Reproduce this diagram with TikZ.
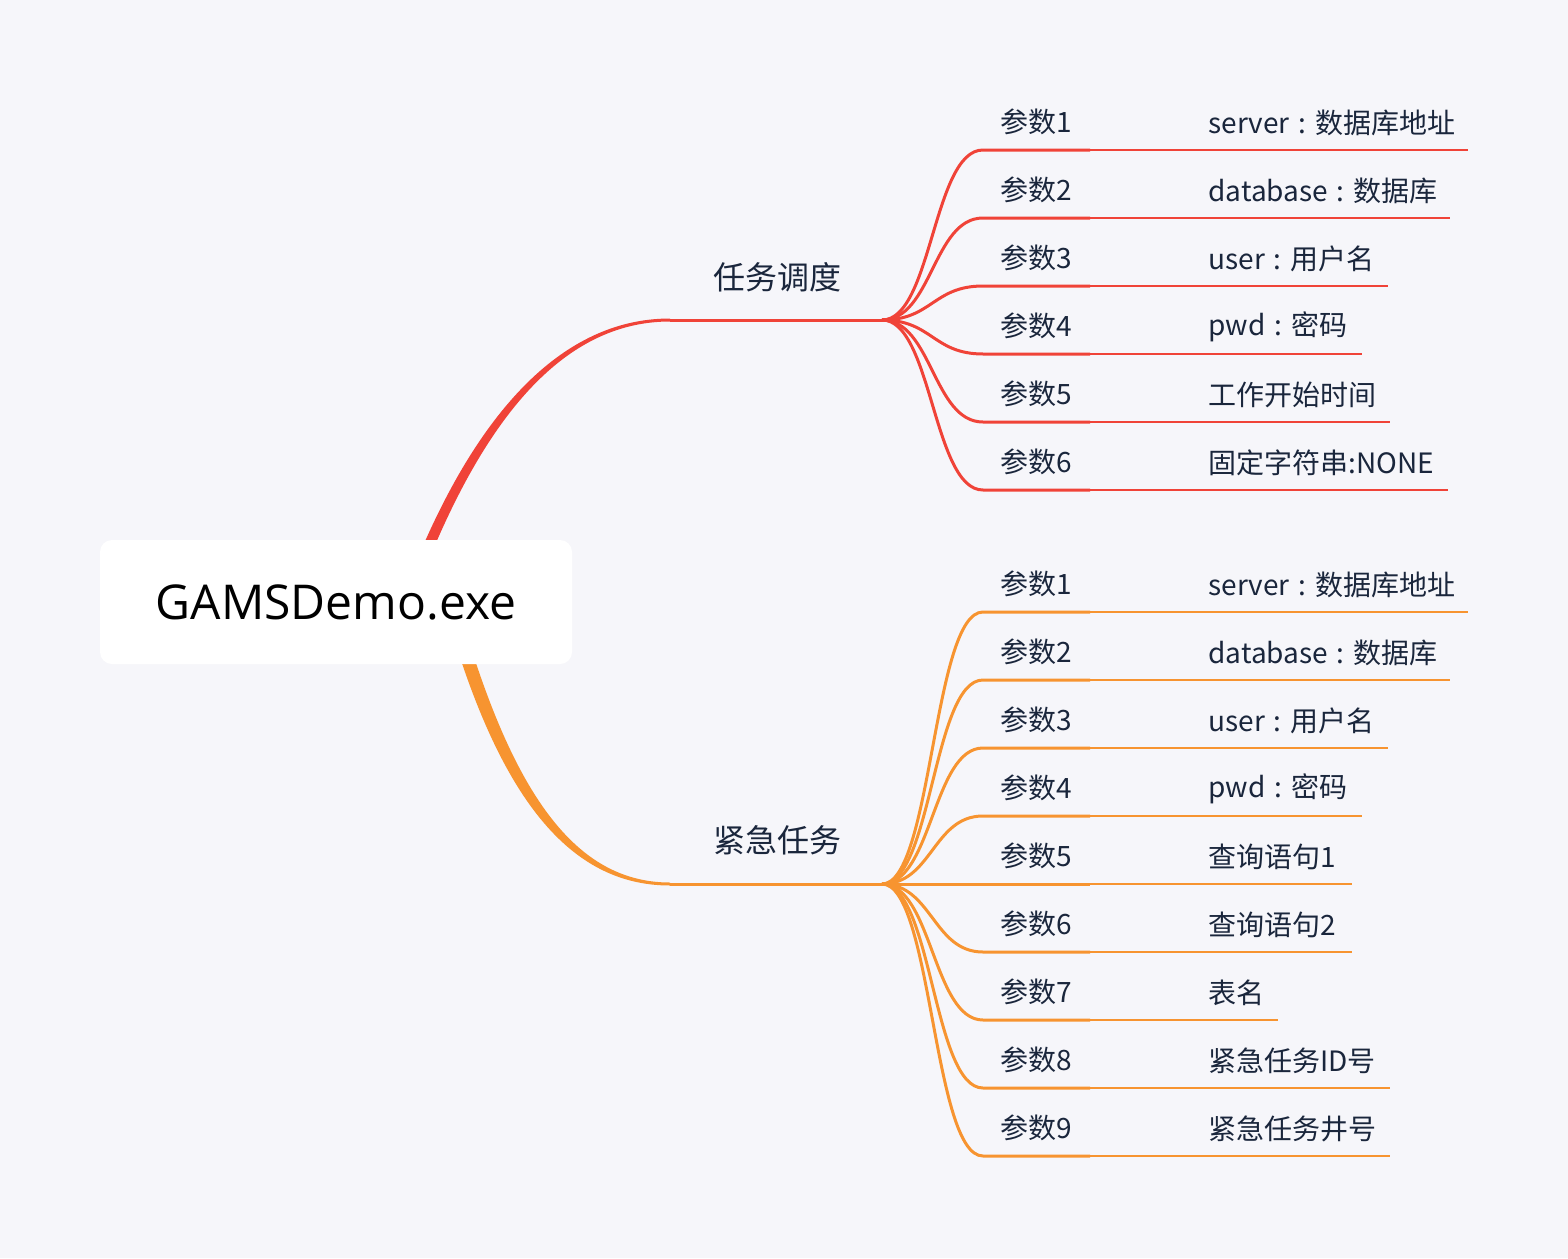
\documentclass[tikz,border=0pt]{standalone}
\usepackage{fontspec}
\setmainfont{Open Sans}
\newfontfamily\cn{Noto Sans CJK SC}
\definecolor{bgpaper}{RGB}{246,246,250}
\definecolor{redline}{RGB}{240,67,56}
\definecolor{orangeline}{RGB}{247,148,48}
\definecolor{ink}{RGB}{26,38,60}
\newcommand{\sep}{\hspace{4.5pt}:\hspace{4.5pt}}
\tikzset{
  rootbox/.style={fill=white,rounded corners=6pt,minimum width=236pt,minimum height=62pt,inner sep=0pt,
    font=\fontsize{24}{27}\selectfont,text=black},
  topic/.style={anchor=west,inner sep=0pt,text=ink,font=\cn\fontsize{16}{18}\selectfont},
  param/.style={anchor=west,inner sep=0pt,text=ink,font=\cn\fontsize{14}{16}\selectfont},
  twig/.style={line width=1.5pt},
  leaf/.style={line width=1pt}
}
\begin{document}
\begin{tikzpicture}[x=0.5pt,y=-0.5pt]
    \fill[bgpaper] (0,0) rectangle (1568,1258);
    \useasboundingbox (0,0) rectangle (1568,1258);

    % joints and hubs
    \coordinate (jA) at (670,320);
    \coordinate (hA) at (882,320);
    \coordinate (jB) at (670,884);
    \coordinate (hB) at (882,884);

    % main branches (tapered)
    \fill[redline] (394,620) .. controls (464,420) and (558,318.5) .. (670,318.5) -- (670,321.5) .. controls (562,321.5) and (476,420) .. (406,620) -- cycle;
    \fill[orangeline] (454,590) .. controls (508,788) and (572,882.5) .. (670,882.5) -- (670,885.5) .. controls (566,885.5) and (494,792) .. (440,590) -- cycle;
    \draw[redline,twig] (jA) -- (hA);
    \draw[orangeline,twig] (jB) -- (hB);

    % topic labels
    \node[topic] (tA) at (713,277) {任务调度};
    \node[topic] (tB) at (713,840) {紧急任务};

    % parameters of 任务调度
    \foreach \y/\txt/\xe [count=\i] in {150/{server\sep 数据库地址}/1468, 218/{database\sep 数据库}/1450,
        286/{user\sep 用户名}/1388, 354/{pwd\sep 密码}/1362, 422/{工作开始时间}/1390, 490/{固定字符串:NONE}/1448}{
        \coordinate (a\i) at (983,\y);
        \coordinate (am\i) at (1090,\y);
        \coordinate (ae\i) at (\xe,\y);
        \draw[redline,twig] (hA) .. controls +(50,0) and +(-50,0) .. (a\i) -- (am\i);
        \draw[redline,leaf] (am\i) -- (ae\i);
        \node[param] (pa\i) at (1000,\y-28) {参数\i};
        \node[param] (va\i) at (1208,\y-27) {\txt};
    }

    % parameters of 紧急任务
    \foreach \y/\txt/\xe [count=\i] in {612/{server\sep 数据库地址}/1468, 680/{database\sep 数据库}/1450,
        748/{user\sep 用户名}/1388, 816/{pwd\sep 密码}/1362, 884/{查询语句1}/1352, 952/{查询语句2}/1352,
        1020/{表名}/1278, 1088/{紧急任务ID号}/1390, 1156/{紧急任务井号}/1390}{
        \coordinate (b\i) at (983,\y);
        \coordinate (bm\i) at (1090,\y);
        \coordinate (be\i) at (\xe,\y);
        \draw[orangeline,twig] (hB) .. controls +(50,0) and +(-50,0) .. (b\i) -- (bm\i);
        \draw[orangeline,leaf] (bm\i) -- (be\i);
        \node[param] (pb\i) at (1000,\y-28) {参数\i};
        \node[param] (vb\i) at (1208,\y-27) {\txt};
    }

    % root
    \node[rootbox] (root) at (336,602) {GAMSDemo.exe};
\end{tikzpicture}
\end{document}
